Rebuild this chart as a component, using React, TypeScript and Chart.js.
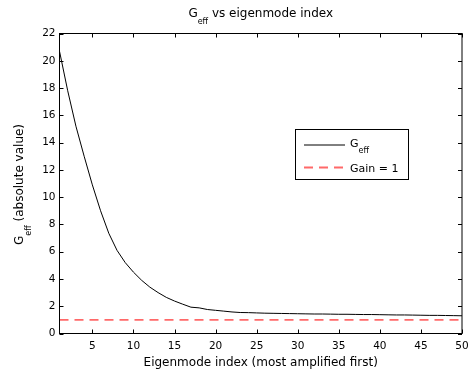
import React, { useEffect, useRef } from 'react';
import { Chart, registerables } from 'chart.js';

Chart.register(...registerables);

// ---- data ----
const modeIndex: number[] = Array.from({ length: 50 }, (_, i) => i + 1);
const gEff: number[] = [
  20.7, 17.8, 15.2, 13.0, 10.9, 9.0, 7.35, 6.1, 5.2, 4.5,
  3.9, 3.4, 3.0, 2.65, 2.38, 2.15, 1.93, 1.88, 1.76, 1.7,
  1.64, 1.58, 1.54, 1.53, 1.51, 1.49, 1.48, 1.47, 1.46, 1.45,
  1.44, 1.43, 1.43, 1.42, 1.41, 1.41, 1.4, 1.39, 1.39, 1.38,
  1.37, 1.36, 1.36, 1.35, 1.34, 1.33, 1.33, 1.32, 1.31, 1.3,
];
const gainLevel = 1;
const xTickValues: number[] = [5, 10, 15, 20, 25, 30, 35, 40, 45, 50];
const yTickValues: number[] = [0, 2, 4, 6, 8, 10, 12, 14, 16, 18, 20, 22];
const xMin = 1;
const xMax = 50;
const yMin = 0;
const yMax = 22;

const titleParts = { main: 'G', sub: 'eff', rest: ' vs eigenmode index' };
const yLabelParts = { main: 'G', sub: 'eff', rest: ' (absolute value)' };
const xLabel = 'Eigenmode index (most amplified first)';
const legendCurve = { main: 'G', sub: 'eff', rest: '' };
const legendGain = 'Gain = 1';

const FONT = '"DejaVu Sans", "Liberation Sans", Arial, sans-serif';
const RED = 'rgb(255, 105, 105)';

function drawSubText(
  ctx: CanvasRenderingContext2D,
  parts: { main: string; sub: string; rest: string },
  x: number,
  y: number,
  size: number,
  subSize: number,
  subDrop: number,
  align: 'center' | 'left'
) {
  ctx.textAlign = 'left';
  ctx.textBaseline = 'alphabetic';
  ctx.font = `${size}px ${FONT}`;
  const w1 = ctx.measureText(parts.main).width;
  const w3 = ctx.measureText(parts.rest).width;
  ctx.font = `${subSize}px ${FONT}`;
  const w2 = ctx.measureText(parts.sub).width;
  const total = w1 + w2 + w3;
  let sx = align === 'center' ? x - total / 2 : x;
  ctx.font = `${size}px ${FONT}`;
  ctx.fillText(parts.main, sx, y);
  sx += w1;
  ctx.font = `${subSize}px ${FONT}`;
  ctx.fillText(parts.sub, sx, y + subDrop);
  sx += w2;
  ctx.font = `${size}px ${FONT}`;
  ctx.fillText(parts.rest, sx, y);
}

const decorPlugin = {
  id: 'matlabDecor',
  afterDraw(chart: any) {
    const ctx: CanvasRenderingContext2D = chart.ctx;
    const { left, right, top, bottom } = chart.chartArea;
    const xs = chart.scales.x;
    const ys = chart.scales.y;
    ctx.save();
    ctx.strokeStyle = '#000';
    ctx.fillStyle = '#000';
    ctx.lineWidth = 1;
    // box
    ctx.strokeRect(left, top, right - left, bottom - top);
    // ticks inward
    const tl = 4;
    ctx.beginPath();
    xTickValues.forEach((v) => {
      const px = Math.round(xs.getPixelForValue(v)) + 0.5;
      ctx.moveTo(px, bottom);
      ctx.lineTo(px, bottom - tl);
      ctx.moveTo(px, top);
      ctx.lineTo(px, top + tl);
    });
    yTickValues.forEach((v) => {
      const py = Math.round(ys.getPixelForValue(v)) + 0.5;
      ctx.moveTo(left, py);
      ctx.lineTo(left + tl, py);
      ctx.moveTo(right, py);
      ctx.lineTo(right - tl, py);
    });
    ctx.stroke();

    const cx = (left + right) / 2;
    // title
    drawSubText(ctx, titleParts, cx, 16.7, 12, 8, 7.5, 'center');
    // x label
    ctx.font = `12px ${FONT}`;
    ctx.textAlign = 'center';
    ctx.textBaseline = 'alphabetic';
    ctx.fillText(xLabel, cx, 365.7);
    // y label
    ctx.save();
    ctx.translate(23.3, (top + bottom) / 2 + 1);
    ctx.rotate(-Math.PI / 2);
    drawSubText(ctx, yLabelParts, 0, 0, 12, 8, 7.5, 'center');
    ctx.restore();

    // legend
    const lx = 295.5, ly = 129.5, lw = 113, lh = 50;
    ctx.fillStyle = '#fff';
    ctx.fillRect(lx, ly, lw, lh);
    ctx.strokeStyle = '#000';
    ctx.lineWidth = 1;
    ctx.strokeRect(lx, ly, lw, lh);
    ctx.beginPath();
    ctx.moveTo(304, 145);
    ctx.lineTo(345, 145);
    ctx.stroke();
    ctx.save();
    ctx.strokeStyle = RED;
    ctx.lineWidth = 1.8;
    ctx.setLineDash([9, 6]);
    ctx.beginPath();
    ctx.moveTo(304, 167.5);
    ctx.lineTo(345, 167.5);
    ctx.stroke();
    ctx.restore();
    ctx.fillStyle = '#000';
    drawSubText(ctx, legendCurve, 350, 146.5, 11, 8, 6.5, 'left');
    ctx.font = `11px ${FONT}`;
    ctx.textAlign = 'left';
    ctx.fillText(legendGain, 350, 171.7);
    ctx.restore();
  },
};

export default function App() {
  const ref = useRef<HTMLCanvasElement | null>(null);
  useEffect(() => {
    if (!ref.current) return;
    const curve = modeIndex.map((x, i) => ({ x, y: gEff[i] }));
    const gain = [xMin, xMax].map((x) => ({ x, y: gainLevel }));
    const chart = new Chart(ref.current, {
      type: 'line',
      data: {
        datasets: [
          {
            label: 'G_eff',
            data: curve,
            borderColor: '#000',
            borderWidth: 1,
            pointRadius: 0,
            tension: 0,
            fill: false,
          },
          {
            label: 'Gain = 1',
            data: gain,
            borderColor: RED,
            borderWidth: 1.8,
            borderDash: [9, 6],
            pointRadius: 0,
            fill: false,
          },
        ],
      },
      options: {
        responsive: false,
        animation: false,
        devicePixelRatio: 1,
        layout: { padding: { top: 33.5, right: 8, left: 0, bottom: 0 } },
        plugins: {
          legend: { display: false },
          title: { display: false },
          tooltip: { enabled: false },
        },
        scales: {
          x: {
            type: 'linear',
            min: xMin,
            max: xMax,
            grid: { display: false, drawTicks: false },
            border: { display: false },
            afterBuildTicks: (scale: any) => {
              scale.ticks = xTickValues.map((v) => ({ value: v }));
            },
            afterFit: (scale: any) => {
              scale.height = 38.5;
              scale.paddingLeft = 0;
              scale.paddingRight = 0;
            },
            ticks: {
              color: '#000',
              font: { family: FONT, size: 10.5 },
              padding: 6,
              maxRotation: 0,
              autoSkip: false,
            },
          },
          y: {
            type: 'linear',
            min: yMin,
            max: yMax,
            grid: { display: false, drawTicks: false },
            border: { display: false },
            afterBuildTicks: (scale: any) => {
              scale.ticks = yTickValues.map((v) => ({ value: v }));
            },
            afterFit: (scale: any) => {
              scale.width = 59.5;
              scale.paddingTop = 0;
              scale.paddingBottom = 0;
            },
            ticks: {
              color: '#000',
              font: { family: FONT, size: 10.5 },
              padding: 4,
              autoSkip: false,
            },
          },
        },
      },
      plugins: [decorPlugin],
    } as any);
    return () => chart.destroy();
  }, []);
  return (
    <div style={{ position: 'absolute', left: 0, top: 0, width: 470, height: 372, background: '#fff' }}>
      <canvas ref={ref} width={470} height={372} style={{ display: 'block' }} />
    </div>
  );
}
